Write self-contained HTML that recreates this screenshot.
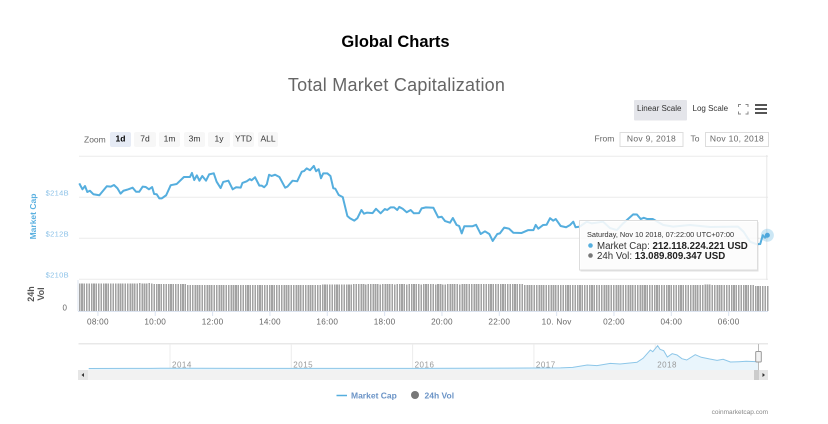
<!DOCTYPE html>
<html lang="en">
<head>
<meta charset="utf-8">
<title>Global Charts</title>
<style>
html,body{margin:0;padding:0;background:#fff;width:828px;height:424px;overflow:hidden}
svg{display:block;font-family:"Liberation Sans",sans-serif}
</style>
</head>
<body>
<svg id="chart" xmlns="http://www.w3.org/2000/svg" width="828" height="424" viewBox="0 0 828 424">
  <text x="395.5" y="47" text-anchor="middle" font-size="16.5" font-weight="bold" fill="#000">Global Charts</text>
  <text x="396.5" y="91" text-anchor="middle" font-size="18" letter-spacing="0.23" fill="#666">Total Market Capitalization</text>

  <g font-size="8" fill="#333">
    <rect x="634" y="100" width="53" height="20.5" rx="1" fill="#e4e5ea"/>
    <text x="637" y="111">Linear Scale</text>
    <text x="692.5" y="111">Log Scale</text>
  </g>
  <g fill="none" stroke="#888" stroke-width="1">
    <path d="M738.5 107V104.5H741M745.5 104.5H748V107M738.5 111.5V114H741M745.5 114H748V111.5"/>
  </g>
  <g fill="#555">
    <rect x="755" y="104" width="12" height="2"/>
    <rect x="755" y="108" width="12" height="2"/>
    <rect x="755" y="112" width="12" height="2"/>
  </g>

  <g font-size="8.5" fill="#333" text-anchor="middle">
    <text x="84" y="142.5" text-anchor="start" fill="#666">Zoom</text>
    <rect x="110" y="132" width="21" height="15" rx="2" fill="#e6ebf5"/>
    <text x="120.5" y="141.5" font-weight="bold" fill="#000">1d</text>
    <rect x="134" y="132" width="22" height="15" rx="2" fill="#f7f7f7"/>
    <text x="145" y="141.5">7d</text>
    <rect x="159" y="132" width="21" height="15" rx="2" fill="#f7f7f7"/>
    <text x="169.5" y="141.5">1m</text>
    <rect x="184" y="132" width="21" height="15" rx="2" fill="#f7f7f7"/>
    <text x="194.5" y="141.5">3m</text>
    <rect x="208" y="132" width="22" height="15" rx="2" fill="#f7f7f7"/>
    <text x="219" y="141.5">1y</text>
    <rect x="233" y="132" width="21" height="15" rx="2" fill="#f7f7f7"/>
    <text x="243.5" y="141.5">YTD</text>
    <rect x="258" y="132" width="20" height="15" rx="2" fill="#f7f7f7"/>
    <text x="268" y="141.5">ALL</text>
  </g>

  <g font-size="8.5" fill="#666">
    <text x="594.5" y="141.5">From</text>
    <rect x="620" y="132.5" width="63" height="14" fill="#fff" stroke="#ddd"/>
    <text x="651.5" y="141.5" text-anchor="middle" letter-spacing="0.3">Nov 9, 2018</text>
    <text x="690.5" y="141.5">To</text>
    <rect x="705.5" y="132.5" width="63" height="14" fill="#fff" stroke="#ddd"/>
    <text x="737" y="141.5" text-anchor="middle" letter-spacing="0.3">Nov 10, 2018</text>
  </g>

  <g id="grid"></g>
  <g id="vol-bars"></g>
  <g id="axes"></g>
  <path id="cap-line" fill="none" stroke="#55aede" stroke-width="2" stroke-linejoin="round"/>
  <circle id="hover-halo" r="6.5" fill="#55aede" fill-opacity="0.3"/>
  <circle id="hover-dot" r="2.5" fill="#4da6dc"/>

  <text transform="translate(36,216.5) rotate(-90)" text-anchor="middle" font-size="8.5" font-weight="bold" fill="#5ab0e0">Market Cap</text>
  <text transform="rotate(-90 34 294)" font-size="9" font-weight="bold" fill="#555" text-anchor="middle"><tspan x="34" y="294">24h</tspan><tspan x="34" y="304">Vol</tspan></text>

  <g>
    <rect x="78.5" y="343" width="689.5" height="1.5" fill="#e8e8e8"/>
    <g id="nav-grid"></g>
    <path id="nav-area" fill="#e9f5fc"/>
    <g id="nav-labels"></g>
    <path id="nav-line" fill="none" stroke="#8cc6e8" stroke-width="1"/>
    <rect x="78" y="370" width="690" height="10" fill="#f2f2f2"/>
    <rect x="78" y="370" width="10" height="10" fill="#e6e6e6"/>
    <path d="M81.5 375L84 373V377Z" fill="#333"/>
    <rect x="754" y="370" width="5" height="10" fill="#ccc"/>
    <rect x="759" y="370" width="9" height="10" fill="#e6e6e6"/>
    <path d="M765 375L762.5 373V377Z" fill="#333"/>
    <line x1="758.5" y1="344" x2="758.5" y2="370" stroke="#bbb"/>
    <rect x="755.7" y="351.5" width="5.6" height="10.5" rx="1" fill="#f2f2f2" stroke="#999"/>
  </g>

  <g font-size="8.5" font-weight="bold" fill="#6a93c6">
    <line x1="336.5" y1="395.5" x2="347" y2="395.5" stroke="#55aede" stroke-width="1.5"/>
    <text x="351" y="398.5">Market Cap</text>
    <circle cx="415" cy="395" r="4" fill="#777"/>
    <text x="424.5" y="398.5">24h Vol</text>
  </g>
  <text x="768" y="414" text-anchor="end" font-size="6.5" fill="#888">coinmarketcap.com</text>

  <g>
    <rect x="580.5" y="222" width="178" height="49.5" fill="#000" fill-opacity="0.12"/>
    <rect x="579.5" y="220.5" width="178" height="49.5" fill="#fff" fill-opacity="0.88" stroke="#ddd"/>
    <text x="587" y="237" font-size="7.35" fill="#333">Saturday, Nov 10 2018, 07:22:00 UTC+07:00</text>
    <circle cx="590.5" cy="245.5" r="2.3" fill="#55aede"/>
    <text x="597" y="249" font-size="9.7" fill="#333">Market Cap: <tspan font-weight="bold" fill="#222">212.118.224.221 USD</tspan></text>
    <circle cx="590.5" cy="255.5" r="2.3" fill="#777"/>
    <text x="597" y="259" font-size="9.7" fill="#333">24h Vol: <tspan font-weight="bold" fill="#222">13.089.809.347 USD</tspan></text>
  </g>
</svg>

<script>
// Hour of day counted from 00:00 on Nov 9
const capHours = [7.35,7.46,7.55,7.63,7.72,7.84,8.05,8.31,8.45,8.56,8.68,8.79,8.89,9.06,9.21,9.33,9.44,9.56,9.67,9.78,9.89,9.96,10.05,10.14,10.23,10.38,10.54,10.75,11.0,11.21,11.28,11.36,11.45,11.54,11.64,11.77,11.88,12.04,12.14,12.28,12.37,12.55,12.70,12.82,12.98,13.04,13.19,13.30,13.36,13.48,13.63,13.71,13.80,13.89,13.97,14.06,14.18,14.33,14.53,14.61,14.79,14.95,15.11,15.19,15.28,15.40,15.53,15.61,15.70,15.78,15.86,16.0,16.11,16.21,16.28,16.40,16.54,16.70,16.79,16.94,17.05,17.19,17.28,17.38,17.58,17.70,17.86,18.01,18.09,18.21,18.33,18.44,18.51,18.63,18.77,18.91,19.02,19.20,19.29,19.44,19.70,19.87,19.99,20.11,20.28,20.38,20.51,20.60,20.69,20.78,21.07,21.19,21.35,21.50,21.65,21.77,21.93,22.02,22.17,22.34,22.49,22.78,23.01,23.19,23.27,23.36,23.53,23.65,23.77,23.88,23.97,24.14,24.33,24.47,24.58,24.66,24.81,25.05,25.22,25.62,25.86,26.10,26.32,26.67,26.80,26.93,27.04,27.16,27.35,27.72,28.07,28.65,29.35,30.33,30.52,30.75,30.98,31.10,31.19,31.27,31.35];
// Market cap in billions of USD
const capValues = [214.68,214.39,214.55,214.26,214.32,214.15,214.10,214.54,214.52,214.60,214.44,214.18,214.32,214.39,214.47,214.27,214.27,214.52,214.50,214.39,214.50,214.16,214.15,213.95,213.95,214.10,214.59,214.65,214.99,214.99,215.19,214.84,215.07,214.81,215.04,214.81,215.12,215.17,214.76,214.45,214.75,214.81,214.39,214.49,214.47,214.70,214.78,214.89,214.83,214.98,214.57,214.57,214.49,214.63,215.10,215.04,215.10,214.99,214.47,214.52,214.81,214.78,215.25,215.28,215.41,215.32,215.53,215.27,215.37,214.93,215.17,215.17,215.04,214.44,214.42,214.11,214.01,213.09,212.98,212.86,212.98,213.38,213.20,213.25,213.23,213.44,213.22,213.43,213.38,213.51,213.51,213.38,213.53,213.44,213.27,213.38,213.22,213.23,213.46,213.51,213.49,213.02,213.05,212.84,212.76,212.99,212.65,212.60,212.24,212.59,212.59,212.66,212.21,212.34,212.21,211.87,212.21,212.24,212.52,212.47,212.27,212.26,212.40,212.40,212.65,212.47,212.65,212.66,212.98,212.86,212.94,212.60,212.54,212.65,212.81,212.54,212.57,212.81,212.73,212.81,212.50,212.40,212.73,213.17,213.16,212.94,213.00,212.94,212.94,212.65,212.57,212.65,212.55,212.57,212.32,211.83,211.71,211.72,212.15,212.03,212.15];

// 24h volume in billions of USD, evenly spaced samples across the window
const volStartHour = 7.36;
const volEndHour = 31.36;
const volValues = [
14.5,14.5,14.4,14.5,14.5,14.5,14.4,14.5,14.5,14.5,14.5,14.4,14.5,14.5,14.5,14.5,
14.4,14.5,14.5,14.5,14.5,14.5,14.4,14.5,14.5,14.6,14.5,14.5,14.5,14.6,14.5,
14.2,14.2,14.1,14.2,14.2,14.2,14.2,14.1,14.2,14.2,14.2,14.2,14.2,14.2,
13.7,13.6,13.6,13.6,13.7,13.6,13.6,13.6,13.6,13.6,13.6,13.7,13.6,13.6,13.6,13.6,
13.6,13.6,13.6,13.7,13.6,13.6,13.6,13.6,13.6,13.6,13.6,13.7,13.6,13.6,13.6,13.6,
13.6,13.6,13.6,13.7,13.6,13.6,13.6,13.6,13.6,13.6,13.7,13.6,13.6,13.6,13.6,13.6,
13.6,13.6,13.7,13.6,13.6,13.6,13.6,13.7,
13.9,13.9,14.0,13.8,13.8,13.8,13.8,13.9,13.8,13.8,13.8,13.9,13.9,14.1,14.1,14.1,
14.1,14.1,14.0,14.1,14.1,14.1,14.1,14.1,14.0,14.1,14.1,14.1,14.1,14.1,14.0,14.1,
14.1,14.1,14.1,14.0,14.1,14.1,14.1,14.1,14.1,14.0,14.1,14.1,14.1,14.1,14.1,14.0,
14.1,14.1,13.9,13.9,14.1,14.1,14.1,14.1,14.1,14.0,14.1,14.1,14.1,14.1,14.1,14.1,
14.2,14.1,14.1,14.1,14.2,14.1,14.1,14.1,14.2,14.1,14.1,14.1,14.1,14.1,14.1,14.1,
14.1,14.1,14.1,14.1,
13.7,13.7,13.6,13.7,13.7,13.6,13.6,13.7,13.6,13.6,13.6,13.6,13.6,13.6,13.6,13.6,
13.6,13.6,13.6,13.6,13.6,13.6,13.6,13.6,13.6,13.6,13.6,13.6,13.6,13.6,13.6,13.6,
13.6,13.6,13.6,13.6,13.6,13.6,13.6,13.6,13.6,13.6,13.6,13.6,13.6,13.6,13.6,13.6,
13.6,13.6,13.6,13.6,13.6,13.6,13.6,13.6,13.6,13.6,13.6,13.6,13.6,13.6,13.6,13.6,
13.6,13.6,13.6,13.6,13.6,13.6,13.6,13.6,13.6,13.6,13.6,13.8,13.8,13.8,13.7,13.7,
13.6,13.6,13.7,13.7,13.6,13.6,13.7,13.6,13.6,13.7,13.6,13.6,13.6,13.6,13.6,13.6,
13.1,13.1,13.1,13.1,13.1,13.1
];

const yTickValues = [216,214,212,210];
const yTickLabels = ["","$214B","$212B","$210B"];
const volTickValues = [0];
const volTickLabels = ["0"];
const xTickHours = [8,10,12,14,16,18,20,22,24,26,28,30];
const xTickLabels = ["08:00","10:00","12:00","14:00","16:00","18:00","20:00","22:00","10. Nov","02:00","04:00","06:00"];

// Navigator: whole history
const navYears = [2013.33,2013.84,2013.92,2014,2014.16,2015,2016,2017,2017.22,2017.32,2017.44,2017.52,2017.63,2017.71,2017.85,2017.90,2017.96,2017.98,2018.02,2018.04,2018.07,2018.10,2018.14,2018.18,2018.22,2018.26,2018.33,2018.38,2018.45,2018.51,2018.56,2018.62,2018.69,2018.75,2018.85];
const navValues = [2,4,10,10,9,5,6,17,25,40,129,105,190,165,228,375,680,618,838,706,654,423,544,496,360,312,507,412,349,301,338,239,250,265,250];
const navTickYears = [2014,2015,2016,2017,2018];
const navTickLabels = ["2014","2015","2016","2017","2018"];

// Axis functions
const xMain = h => 79 + (h - 7.34) * 28.67;
const yMain = v => 197.3 + (214 - v) * 20.5;
const yVol = v => 311 - v * 1.91;
const xNav = t => 170 + (t - 2014) * 121.3;
const yNav = v => 368.5 - v * 0.0272;

const NS = "http://www.w3.org/2000/svg";
function mk(tag, parent, attrs) {
  const el = document.createElementNS(NS, tag);
  for (const k in attrs) el.setAttribute(k, attrs[k]);
  parent.appendChild(el);
  return el;
}

const grid = document.getElementById("grid");
const axes = document.getElementById("axes");
const bars = document.getElementById("vol-bars");

yTickValues.forEach((v, i) => {
  const y = yMain(v);
  const gl = mk("line", grid, {x1: 79, x2: 768, y1: y, y2: y, stroke: "#ececec", "stroke-width": 1});
  
  
  if (yTickLabels[i]) {
    const t = mk("text", axes, {x: 69, y: y - 2, "text-anchor": "end", "font-size": 7.5, "letter-spacing": 0.35, fill: "#8cc2e8"});
    
    
    t.textContent = yTickLabels[i];
  }
});

const rightEdge = mk("line", grid, {x1: 766.8, x2: 766.8, y1: 155, y2: 280, stroke: "#e6e6e6", "stroke-width": 1});


const leftEdge = mk("line", grid, {x1: 78, x2: 78, y1: 280, y2: 311, stroke: "#dde6f2", "stroke-width": 1});



const volStep = (volEndHour - volStartHour) / (volValues.length - 1);
volValues.forEach((v, i) => {
  const x = xMain(volStartHour + i * volStep);
  const top = yVol(v);
  const b = mk("rect", bars, {x: x - 0.8, y: top, width: 1.6, height: yVol(0) - top, fill: "#a2a2a2", "shape-rendering": "crispEdges"});
  
  
});

const base = mk("line", axes, {x1: 78, x2: 768, y1: 311.5, y2: 311.5, stroke: "#dbe3f0", "stroke-width": 1});



volTickValues.forEach((v, i) => {
  const t = mk("text", axes, {x: 67, y: yVol(v) - 0.5, "text-anchor": "end", "font-size": 8, fill: "#666"});
  
  
  t.textContent = volTickLabels[i];
});

xTickHours.forEach((h, i) => {
  const x = xMain(h);
  const tk = mk("line", axes, {x1: x, x2: x, y1: 311, y2: 316, stroke: "#dbe3f0", "stroke-width": 1});
  
  
  const t = mk("text", axes, {x: x, y: 324.5, "text-anchor": "middle", "font-size": 8.2, "letter-spacing": 0.25, fill: "#666"});
  
  
  t.textContent = xTickLabels[i];
});

document.getElementById("cap-line").setAttribute("d",
  capHours.map((h, i) => (i ? "L" : "M") + xMain(h).toFixed(2) + " " + yMain(capValues[i]).toFixed(2)).join(""));

const lastX = xMain(capHours[capHours.length - 1]);
const lastY = yMain(capValues[capValues.length - 1]);
["hover-halo", "hover-dot"].forEach(id => {
  const c = document.getElementById(id);
  c.setAttribute("cx", lastX);
  c.setAttribute("cy", lastY);
});

const navGrid = document.getElementById("nav-grid");
const navLabels = document.getElementById("nav-labels");
navTickYears.forEach((yr, i) => {
  const x = xNav(yr);
  const l = mk("line", navGrid, {x1: x, x2: x, y1: 344, y2: 370, stroke: "#ececec", "stroke-width": 1});
  
  
  const t = mk("text", navLabels, {x: x + 2, y: 367.5, "font-size": 8, "letter-spacing": 0.5, fill: "#999"});
  
  
  t.textContent = navTickLabels[i];
});

const navPath = navYears.map((t, i) => (i ? "L" : "M") + xNav(t).toFixed(2) + " " + yNav(navValues[i]).toFixed(2)).join("");
document.getElementById("nav-line").setAttribute("d", navPath);
document.getElementById("nav-area").setAttribute("d",
  navPath + "L" + xNav(navYears[navYears.length - 1]).toFixed(2) + " 370L" + xNav(navYears[0]).toFixed(2) + " 370Z");
</script>
</body>
</html>
